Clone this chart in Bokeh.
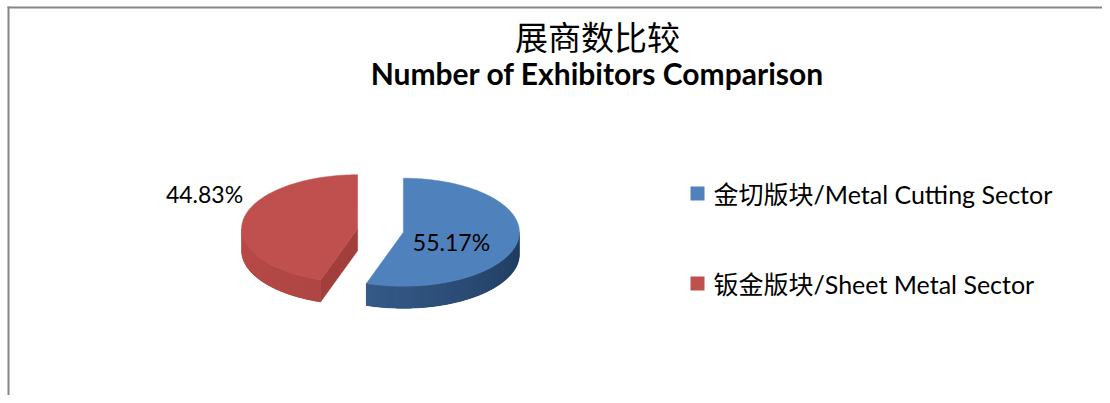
import numpy as np
from bokeh.plotting import figure
from bokeh.models import Range1d
from bokeh.core.properties import value
from bokeh.embed import file_html
from bokeh.resources import INLINE

# ---------------- data ----------------
categories = ["金切版块/Metal Cutting Sector", "钣金版块/Sheet Metal Sector"]
shares = [55.17, 44.83]
labels = ["55.17%", "44.83%"]
title_cn = "展商数比较"
title_en = "Number of Exhibitors Comparison"

# ---------------- style ----------------
top_colors = ["#4F81BD", "#C0504D"]
wall_dark = ["#1E395C", "#A03E3B"]
wall_light = ["#4470A5", "#B84B48"]
cut_colors = ["#2E5483", "#A23F3C"]
FONT = value("Lato, 'Noto Sans CJK SC', sans-serif")

W, H = 1102, 395
p = figure(width=W, height=H, x_range=Range1d(0, W), y_range=Range1d(H, 0),
           output_backend="svg", toolbar_location=None, min_border=0,
           x_axis_location=None, y_axis_location=None, outline_line_color=None,
           background_fill_color="white", border_fill_color="white")
p.grid.visible = False

# chart frame (left and top edges visible in crop)
p.segment(x0=[8, 7], y0=[6, 7], x1=[8, W], y1=[H, 7], line_color="#868686", line_width=2)

# pie geometry (screen-like coords, y down)
cx, cy = 380.0, 230.0
rx, ry = 116.0, 54.0
depth = 22.0
explode = 0.2

fr = np.array(shares) / np.sum(shares)
ends = np.cumsum(fr) * 2 * np.pi
starts = ends - fr * 2 * np.pi


def hex2rgb(h):
    h = h.lstrip("#")
    return np.array([int(h[i:i + 2], 16) for i in (0, 2, 4)], float)


def mix(c1, c2, t):
    c = hex2rgb(c1) * (1 - t) + hex2rgb(c2) * t
    return "#%02x%02x%02x" % tuple(int(round(v)) for v in c)


def ell(ocx, ocy, a, r=1.0):
    return ocx + r * rx * np.sin(a), ocy - r * ry * np.cos(a)


label_pts = []
for i, (a0, a1) in enumerate(zip(starts, ends)):
    mid = (a0 + a1) / 2
    ocx, ocy = ell(cx, cy, mid, explode)

    # radial cut faces
    for a, vis in ((a0, np.sin(a0) < -1e-6), (a1, np.sin(a1) > 1e-6)):
        if vis:
            ex, ey = ell(ocx, ocy, a)
            p.patch([ocx, ex, ex, ocx], [ocy, ey, ey + depth, ocy + depth],
                    fill_color=cut_colors[i], line_color=cut_colors[i], line_width=0.5)

    # front curved wall
    lo, hi = max(a0, np.pi / 2), min(a1, 3 * np.pi / 2)
    if hi > lo:
        n = 40
        ts = np.linspace(lo, hi, n + 1)
        # solid base under the gradient strips (avoids seams)
        fx, fy = ell(ocx, ocy, np.linspace(lo, hi, 120))
        tmid = ((lo + hi) / 2 - np.pi / 2) / np.pi
        base = mix(wall_dark[i], wall_light[i], tmid)
        p.patch(np.r_[fx, fx[::-1]], np.r_[fy, fy[::-1] + depth],
                fill_color=base, line_color=base, line_width=0.5)
        xs, ys, cols = [], [], []
        for k in range(n):
            t0, t1 = ts[k], ts[min(k + 2, n)]
            seg = np.linspace(t0, t1, 6)
            sx, sy = ell(ocx, ocy, seg)
            xs.append(list(np.r_[sx, sx[::-1]]))
            ys.append(list(np.r_[sy, sy[::-1] + depth]))
            tt = ((ts[k] + ts[k + 1]) / 2 - np.pi / 2) / np.pi
            cols.append(mix(wall_dark[i], wall_light[i], tt))
        p.patches(xs, ys, fill_color=cols, line_color=None)

    # top face
    arc = np.linspace(a0, a1, 160)
    axs, ays = ell(ocx, ocy, arc)
    p.patch(np.r_[ocx, axs], np.r_[ocy, ays], fill_color=top_colors[i],
            line_color=top_colors[i], line_width=0.5)
    label_pts.append((ocx, ocy, mid))

# data labels
bx, by, bm = label_pts[0]
lx, ly = ell(bx, by, bm, 0.42)
p.text(x=[lx], y=[ly + 6], text=[labels[0]], text_font=FONT, text_font_size="23px",
       text_align="center", text_baseline="middle", text_color="#000000")
rxp, ryp, rm = label_pts[1]
lx2, ly2 = ell(rxp, ryp, np.deg2rad(300), 1.0)
p.text(x=[lx2 - 14], y=[ly2 - 8], text=[labels[1]], text_font=FONT, text_font_size="23px",
       text_align="right", text_baseline="middle", text_color="#000000")

# titles
p.text(x=[597], y=[35], text=[title_cn], text_font=value("'Noto Sans CJK SC'"),
       text_font_size="33px", text_align="center", text_baseline="middle", text_color="#000000")
p.text(x=[597], y=[72], text=[title_en], text_font=value("Lato"), text_font_style="bold",
       text_font_size="30px", text_align="center", text_baseline="middle", text_color="#000000")

# legend
leg_y = [193, 283]
p.rect(x=[697] * len(categories), y=leg_y, width=14, height=14,
       fill_color=top_colors, line_color=None)
p.text(x=[713] * len(categories), y=leg_y, text=categories, text_font=FONT,
       text_font_size="25px", text_align="left", text_baseline="middle", text_color="#000000")

open("out.html", "w").write(file_html(p, INLINE))
